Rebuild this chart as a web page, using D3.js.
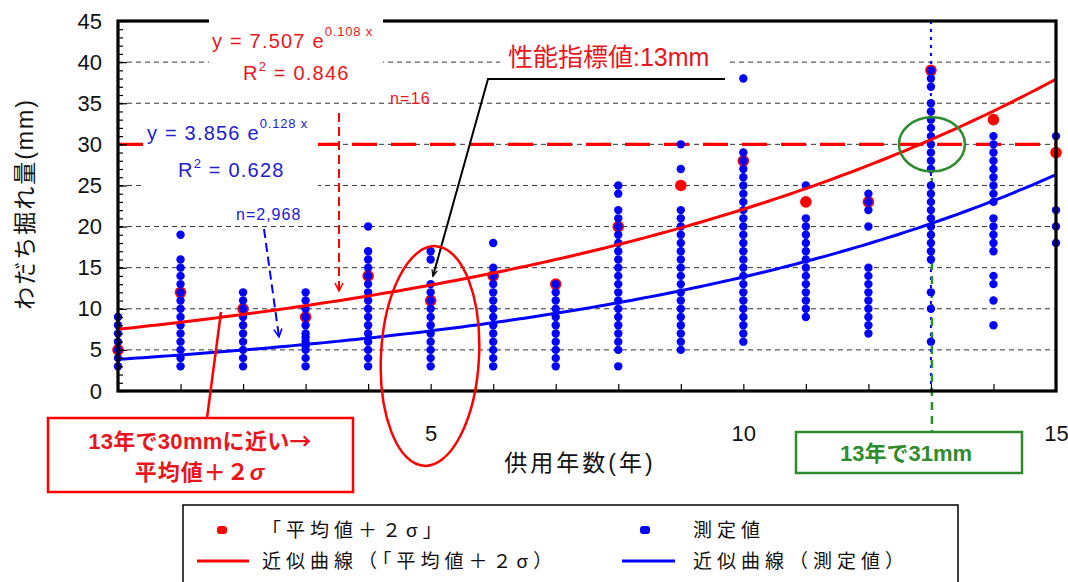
<!DOCTYPE html>
<html>
<head>
<meta charset="utf-8">
<script src="https://cdn.jsdelivr.net/npm/d3@7"></script>
<style>
  html, body { margin: 0; padding: 0; background: #fff; }
  svg { display: block; font-family: "Liberation Sans", "Noto Sans CJK JP", sans-serif; }
</style>
</head>
<body>
<svg id="chart" width="1068" height="582"></svg>
<script>
// ---- data ----------------------------------------------------------------
// service years (x categories)
const years = [0, 1, 2, 3, 4, 5, 6, 7, 8, 9, 10, 11, 12, 13, 14, 15];

// measured rut depths (mm) per service year
const measured = [
  [3, 4, 5, 6, 7, 8, 9],
  [3, 4, 5, 6, 7, 8, 9, 10, 11, 12, 13, 14, 15, 16, 19],
  [3, 4, 5, 6, 7, 8, 9, 10, 11, 12],
  [3, 4, 5, 5.5, 6, 6.5, 7, 8, 9, 10, 11, 12],
  [3, 4, 5, 6, 7, 8, 9, 10, 11, 12, 13, 14, 15, 16, 17, 20],
  [3, 4, 5, 6, 7, 8, 9, 10, 11, 12, 13, 16, 17],
  [3, 4, 5, 6, 7, 8, 9, 10, 11, 12, 13, 14, 15, 18],
  [3, 4, 5, 6, 7, 8, 9, 10, 11, 12, 13],
  [3, 5, 6, 7, 8, 9, 10, 11, 12, 13, 14, 15, 16, 17, 18, 19, 20, 21, 22, 24, 25],
  [5, 6, 7, 8, 9, 10, 11, 12, 13, 14, 15, 16, 17, 18, 19, 20, 21, 22, 27, 30],
  [6, 7, 8, 9, 10, 11, 12, 13, 14, 15, 16, 17, 18, 19, 20, 21, 22, 23, 24, 25, 26, 27, 28, 29, 38],
  [9, 10, 11, 12, 13, 14, 15, 16, 17, 18, 19, 20, 21, 25],
  [7, 8, 9, 10, 11, 12, 13, 14, 15, 20, 22, 23, 24],
  [6, 10, 12, 16, 17, 18, 19, 20, 21, 22, 23, 24, 25, 27, 28, 29, 30, 31, 32, 33, 34, 35, 37, 38, 39],
  [8, 11, 13, 14, 17, 18, 19, 20, 21, 23, 24, 25, 26, 27, 28, 29, 30, 31],
  [18, 20, 22, 31]
];

// "mean + 2 sigma" per service year (mm)
const meanPlus2Sigma = [5, 12, 10, 9, 14, 11, 14, 13, 20, 25, 28, 23, 23, 39, 33, 29];

// exponential fits y = a * exp(b * x)
const fitSigmaA = 7.507, fitSigmaB = 0.108;
const fitMeasA = 3.856, fitMeasB = 0.128;

const yTicks = [0, 5, 10, 15, 20, 25, 30, 35, 40, 45];
const xLabelTicks = [5, 10, 15];
const thresholdMm = 30;
const targetYear = 13;

// ---- drawing -------------------------------------------------------------
const RED = "#ff0000", RED_T = "#e8161c", BLUE = "#0000ff", BLUE_T = "#2020d0", GREEN = "#2e8b2e";
const CJK = "'Noto Sans CJK JP', sans-serif";
const svg = d3.select("#chart");

const x = d3.scaleLinear().domain([0, 15]).range([118, 1056]);
const y = d3.scaleLinear().domain([0, 45]).range([391, 21]);

// arrow heads
const defs = svg.append("defs");
function chevron(id, color) {
  defs.append("marker").attr("id", id)
    .attr("viewBox", "0 0 10 10").attr("refX", 9).attr("refY", 5)
    .attr("markerWidth", 5).attr("markerHeight", 5).attr("orient", "auto")
    .attr("markerUnits", "strokeWidth")
    .append("path").attr("d", "M1,1 L9,5 L1,9").attr("fill", "none")
    .attr("stroke", color).attr("stroke-width", 1.6);
}
chevron("chevRed", RED);
chevron("chevBlue", BLUE);
defs.append("marker").attr("id", "triBlack")
  .attr("viewBox", "0 0 10 10").attr("refX", 9).attr("refY", 5)
  .attr("markerWidth", 7).attr("markerHeight", 7).attr("orient", "auto")
  .attr("markerUnits", "userSpaceOnUse")
  .append("path").attr("d", "M0,1 L10,5 L0,9").attr("fill", "none")
  .attr("stroke", "#000").attr("stroke-width", 1.6);
defs.append("marker").attr("id", "triRed")
  .attr("viewBox", "0 0 10 10").attr("refX", 9).attr("refY", 5)
  .attr("markerWidth", 8).attr("markerHeight", 8).attr("orient", "auto")
  .attr("markerUnits", "userSpaceOnUse")
  .append("path").attr("d", "M0,2 L10,5 L0,8 Z").attr("fill", RED);

// horizontal dashed gridlines
svg.append("g").selectAll("line")
  .data(yTicks.filter(d => d > 0 && d < 45)).join("line")
  .attr("x1", x(0)).attr("x2", x(15))
  .attr("y1", d => y(d)).attr("y2", d => y(d))
  .attr("stroke", "#333").attr("stroke-width", 1).attr("stroke-dasharray", "5,4");

// 30 mm threshold
svg.append("line")
  .attr("x1", x(0)).attr("x2", x(15))
  .attr("y1", y(thresholdMm)).attr("y2", y(thresholdMm))
  .attr("stroke", RED).attr("stroke-width", 3.2).attr("stroke-dasharray", "25,14");

// blue dotted guide at year 13
svg.append("line")
  .attr("x1", x(targetYear)).attr("x2", x(targetYear))
  .attr("y1", y(45)).attr("y2", y(0))
  .attr("stroke", BLUE).attr("stroke-width", 2).attr("stroke-dasharray", "3,5");

// green dashed drop line at year 13
svg.append("line")
  .attr("x1", x(targetYear) + 1).attr("x2", x(targetYear) + 1)
  .attr("y1", 178).attr("y2", 432)
  .attr("stroke", GREEN).attr("stroke-width", 2.5).attr("stroke-dasharray", "8,6");

// mean + 2 sigma points (under the measured points)
svg.append("g").selectAll("circle")
  .data(years.map((yr, i) => ({ yr, v: meanPlus2Sigma[i] }))).join("circle")
  .attr("cx", d => x(d.yr)).attr("cy", d => y(d.v)).attr("r", 5.8)
  .attr("fill", RED);

// measured points
const pts = [];
years.forEach((yr, i) => measured[i].forEach(v => pts.push({ yr, v })));
svg.append("g").selectAll("circle")
  .data(pts).join("circle")
  .attr("cx", d => x(d.yr)).attr("cy", d => y(d.v)).attr("r", 4.2)
  .attr("fill", BLUE);

// fitted curves
const xs = d3.range(0, 15.001, 0.1);
const line = d3.line().x(d => x(d[0])).y(d => y(d[1]));
svg.append("path")
  .datum(xs.map(t => [t, fitMeasA * Math.exp(fitMeasB * t)]))
  .attr("d", line).attr("fill", "none").attr("stroke", BLUE).attr("stroke-width", 3);
svg.append("path")
  .datum(xs.map(t => [t, fitSigmaA * Math.exp(fitSigmaB * t)]))
  .attr("d", line).attr("fill", "none").attr("stroke", RED).attr("stroke-width", 3);

// axes
const yMinor = d3.axisLeft(y).tickValues(d3.range(0, 46, 1)).tickSize(-5).tickFormat("");
const yMajor = d3.axisLeft(y).tickValues(yTicks).tickSize(-9).tickPadding(16);
const xMinor = d3.axisBottom(x).tickValues(years).tickSize(-7).tickFormat("");
const xMajor = d3.axisBottom(x).tickValues(xLabelTicks).tickSize(0).tickPadding(34).tickFormat(d3.format("d"));

function styleAxis(g) {
  g.select(".domain").remove();
  g.selectAll(".tick line").attr("stroke", "#000").attr("stroke-width", 1.2);
  g.selectAll("text").attr("fill", "#111").attr("font-size", 22)
    .attr("font-family", "'Liberation Sans', sans-serif");
}
svg.append("g").attr("transform", `translate(${x(0)},0)`).call(yMinor).call(styleAxis);
svg.append("g").attr("transform", `translate(${x(0)},0)`).call(yMajor).call(styleAxis);
svg.append("g").attr("transform", `translate(0,${y(0)})`).call(xMinor).call(styleAxis);
svg.append("g").attr("transform", `translate(0,${y(0)})`).call(xMajor).call(styleAxis);

// plot frame
svg.append("rect")
  .attr("x", x(0)).attr("y", y(45))
  .attr("width", x(15) - x(0)).attr("height", y(0) - y(45))
  .attr("fill", "none").attr("stroke", "#000").attr("stroke-width", 3.2);

// axis titles
svg.append("text")
  .attr("transform", `translate(33,204) rotate(-90)`)
  .attr("text-anchor", "middle").attr("font-size", 23).attr("letter-spacing", 2)
  .attr("fill", "#111").text("わだち掘れ量(mm)");
svg.append("text")
  .attr("x", 580).attr("y", 471).attr("text-anchor", "middle")
  .attr("font-size", 23).attr("letter-spacing", 3).attr("fill", "#111").text("供用年数(年)");

// ---- annotations ---------------------------------------------------------
// red fit equation
svg.append("rect").attr("x", 209).attr("y", 14).attr("width", 174).attr("height", 78).attr("fill", "#fff");
const eqR = svg.append("text").attr("x", 212).attr("y", 48).attr("font-size", 20)
  .attr("letter-spacing", 1.2).attr("fill", RED_T);
eqR.append("tspan").text(`y = ${fitSigmaA} e`);
eqR.append("tspan").attr("dy", -12).attr("font-size", 13).attr("letter-spacing", 0.8)
  .text(`${fitSigmaB} x`);
const r2R = svg.append("text").attr("x", 243).attr("y", 80).attr("font-size", 20)
  .attr("letter-spacing", 1.2).attr("fill", RED_T);
r2R.append("tspan").text("R");
r2R.append("tspan").attr("dy", -9).attr("font-size", 13).text("2");
r2R.append("tspan").attr("dy", 9).text(" = 0.846");

// blue fit equation
svg.append("rect").attr("x", 143).attr("y", 112).attr("width", 175).attr("height", 84).attr("fill", "#fff");
const eqB = svg.append("text").attr("x", 147).attr("y", 140).attr("font-size", 20)
  .attr("letter-spacing", 1.2).attr("fill", BLUE_T);
eqB.append("tspan").text(`y = ${fitMeasA} e`);
eqB.append("tspan").attr("dy", -12).attr("font-size", 13).attr("letter-spacing", 0.8)
  .text(`${fitMeasB} x`);
const r2B = svg.append("text").attr("x", 178).attr("y", 177).attr("font-size", 20)
  .attr("letter-spacing", 1.2).attr("fill", BLUE_T);
r2B.append("tspan").text("R");
r2B.append("tspan").attr("dy", -9).attr("font-size", 13).text("2");
r2B.append("tspan").attr("dy", 9).text(" = 0.628");

// sample counts with dashed pointers
svg.append("text").attr("x", 390).attr("y", 104).attr("font-size", 16)
  .attr("letter-spacing", 1.2).attr("fill", RED_T).text("n=16");
svg.append("line").attr("x1", 339).attr("y1", 113).attr("x2", 339).attr("y2", 291)
  .attr("stroke", RED).attr("stroke-width", 2).attr("stroke-dasharray", "9,5")
  .attr("marker-end", "url(#chevRed)");
svg.append("text").attr("x", 236).attr("y", 220).attr("font-size", 16)
  .attr("letter-spacing", 1).attr("fill", BLUE_T).text("n=2,968");
svg.append("line").attr("x1", 264).attr("y1", 229).attr("x2", 279).attr("y2", 337)
  .attr("stroke", BLUE).attr("stroke-width", 2).attr("stroke-dasharray", "9,5")
  .attr("marker-end", "url(#chevBlue)");

// performance index callout
svg.append("rect").attr("x", 500).attr("y", 38).attr("width", 228).attr("height", 38).attr("fill", "#fff");
svg.append("text").attr("x", 508).attr("y", 66).attr("font-size", 25)
  .attr("fill", RED_T).text("性能指標値:13mm");
svg.append("polyline")
  .attr("points", "725,79 488,79 433,276")
  .attr("fill", "none").attr("stroke", "#000").attr("stroke-width", 2)
  .attr("marker-end", "url(#triBlack)");

// ellipses
svg.append("ellipse").attr("cx", 430).attr("cy", 356).attr("rx", 49).attr("ry", 110)
  .attr("transform", "rotate(3,430,356)")
  .attr("fill", "none").attr("stroke", RED).attr("stroke-width", 2.5);
svg.append("ellipse").attr("cx", x(targetYear) + 1).attr("cy", y(thresholdMm)).attr("rx", 33).attr("ry", 27)
  .attr("fill", "none").attr("stroke", GREEN).attr("stroke-width", 2.5);

// red note box
svg.append("line").attr("x1", 207).attr("y1", 418).attr("x2", 221).attr("y2", 312)
  .attr("stroke", RED).attr("stroke-width", 2.5).attr("marker-end", "url(#triRed)");
svg.append("rect").attr("x", 48).attr("y", 418).attr("width", 305).attr("height", 74)
  .attr("fill", "#fff").attr("stroke", RED).attr("stroke-width", 2.5);
const note1 = svg.append("text").attr("x", 200).attr("y", 449).attr("text-anchor", "middle")
  .attr("font-size", 22).attr("font-weight", "bold").attr("letter-spacing", 0.3).attr("fill", RED_T);
note1.append("tspan").text("13年で30mmに近い");
note1.append("tspan").attr("font-family", CJK).text("→");
const note2 = svg.append("text").attr("x", 200).attr("y", 480).attr("text-anchor", "middle")
  .attr("font-size", 22).attr("font-weight", "bold").attr("letter-spacing", 1).attr("fill", RED_T);
note2.append("tspan").text("平均値＋２");
note2.append("tspan").attr("font-style", "italic").text("σ");

// green note box
svg.append("rect").attr("x", 796).attr("y", 432).attr("width", 226).attr("height", 41)
  .attr("fill", "#fff").attr("stroke", GREEN).attr("stroke-width", 2.5);
svg.append("text").attr("x", 906).attr("y", 461).attr("text-anchor", "middle")
  .attr("font-size", 22).attr("font-weight", "bold").attr("fill", GREEN)
  .text("13年で31mm");

// ---- legend --------------------------------------------------------------
const lg = svg.append("g");
lg.append("rect").attr("x", 183).attr("y", 505).attr("width", 775).attr("height", 90)
  .attr("fill", "#fff").attr("stroke", "#000").attr("stroke-width", 1.5);
lg.append("rect").attr("x", 217).attr("y", 526).attr("width", 10).attr("height", 8).attr("rx", 3)
  .attr("fill", RED);
lg.append("rect").attr("x", 640).attr("y", 526).attr("width", 10).attr("height", 8).attr("rx", 3)
  .attr("fill", BLUE);
lg.append("line").attr("x1", 197).attr("x2", 249).attr("y1", 561).attr("y2", 561)
  .attr("stroke", RED).attr("stroke-width", 3);
lg.append("line").attr("x1", 622).attr("x2", 675).attr("y1", 561).attr("y2", 561)
  .attr("stroke", BLUE).attr("stroke-width", 3);
const legendText = [
  { x: 262, y: 537, t: "「平均値＋２σ」" },
  { x: 262, y: 568, t: "近似曲線（「平均値＋２σ）" },
  { x: 693, y: 537, t: "測定値" },
  { x: 693, y: 568, t: "近似曲線（測定値）" }
];
lg.selectAll("text.lt").data(legendText).join("text").attr("class", "lt")
  .attr("x", d => d.x).attr("y", d => d.y)
  .attr("font-size", 19).attr("letter-spacing", 5).attr("fill", "#111")
  .text(d => d.t);
</script>
</body>
</html>
